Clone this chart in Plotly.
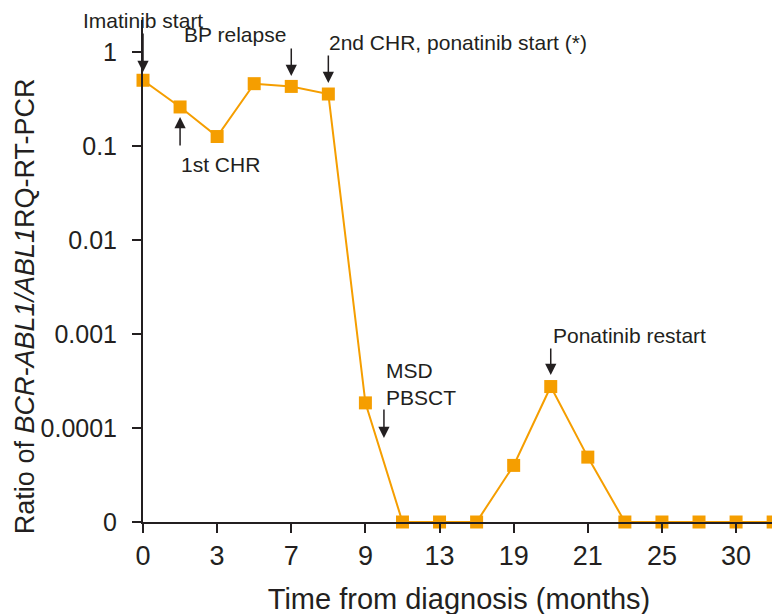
import numpy as np
import plotly.graph_objects as go

# sample order (evenly spaced on the x axis)
sample_index = list(range(18))
# BCR-ABL1/ABL1 ratio per sample (0 = undetectable)
ratio = [0.50, 0.26, 0.126, 0.46, 0.43, 0.357, 1.85e-4, 0, 0, 0,
         4.0e-5, 2.76e-4, 4.9e-5, 0, 0, 0, 0, 0]
# x tick labels (months from diagnosis)
x_tick_pos = [0, 2, 4, 6, 8, 10, 12, 14, 16, 17]
x_tick_text = ["0", "3", "7", "9", "13", "19", "21", "25", "30", ""]
# y tick labels
y_tick_vals = [1, 0.1, 0.01, 0.001, 0.0001, 0.00001]
y_tick_text = ["1", "0.1", "0.01", "0.001", "0.0001", "0"]

ZERO_LEVEL = 1e-5
y_plot = [v if v > 0 else ZERO_LEVEL for v in ratio]

ORANGE = "#F59E00"
INK = "#231f20"
FONT = "Liberation Sans, Arial, Helvetica, sans-serif"

fig = go.Figure()
fig.add_trace(go.Scatter(
    x=sample_index, y=y_plot, mode="lines+markers",
    line=dict(color=ORANGE, width=2),
    marker=dict(symbol="square", size=13, color=ORANGE),
    cliponaxis=False, showlegend=False, hoverinfo="skip"))

ann = []
# text labels
texts = [
    ("Imatinib start", 0, 1.025, "center", "paper", "top"),
    ("BP relapse", 2.48, 0.181, "center", "y", "middle"),
    ("2nd CHR, ponatinib start (*)", 4.97, 0.096, "left", "y", "middle"),
    ("1st CHR", 2.08, -1.202, "center", "y", "middle"),
    ("MSD<br>PBSCT", 6.5, -3.537, "left", "y", "middle"),
    ("Ponatinib restart", 11.0, -3.011, "left", "y", "middle"),
]
for t, x, y, xa, yr, ya in texts:
    ann.append(dict(text=t, x=x, y=y, xref="x", yref=yr, showarrow=False,
                    xanchor=xa, yanchor=ya, align="left",
                    font=dict(size=21, color=INK, family=FONT)))
# arrows: (x, tip log10 y, tail pixel offset)
arrows = [
    (0, -0.213, -40),
    (4, -0.255, -29),
    (5, -0.330, -29),
    (1, -0.691, 30),
    (6.5, -4.106, -30),
    (11, -3.436, -28),
]
for x, y, ay in arrows:
    ann.append(dict(text="", x=x, y=y, xref="x", yref="y", showarrow=True,
                    ax=0, ay=ay, arrowhead=2, arrowsize=1.5, arrowwidth=1.5,
                    arrowcolor=INK))
# y-axis title (placed as rotated text)
ann.append(dict(text="Ratio of <i>BCR-ABL1/ABL1</i>RQ-RT-PCR",
                x=-0.2136, y=0.43, xref="paper", yref="paper",
                textangle=-90, showarrow=False, xanchor="left",
                yanchor="middle",
                font=dict(size=27, color=INK, family=FONT)))

fig.update_layout(
    width=780, height=614,
    margin=dict(l=135, r=13, t=12, b=100, autoexpand=False),
    paper_bgcolor="white", plot_bgcolor="white",
    font=dict(family=FONT, color=INK),
    annotations=ann,
    xaxis=dict(
        range=[0, 17.05], showgrid=False, zeroline=False,
        showline=True, linecolor=INK, linewidth=2,
        ticks="outside", ticklen=9, tickwidth=2, tickcolor=INK,
        tickmode="array", tickvals=x_tick_pos, ticktext=x_tick_text,
        tickfont=dict(size=27, color=INK, family=FONT),
        title=dict(text="Time from diagnosis (months)",
                   font=dict(size=29, color=INK, family=FONT), standoff=18),
    ),
    yaxis=dict(
        type="log", range=[-5, 0.34], showgrid=False, zeroline=False,
        showline=True, linecolor=INK, linewidth=2,
        ticks="outside", ticklen=9, tickwidth=2, tickcolor=INK,
        tickmode="array", tickvals=y_tick_vals, ticktext=y_tick_text,
        tickfont=dict(size=25, color=INK, family=FONT),
        ticklabelstandoff=10,
    ),
)
fig.write_html("out.html")
